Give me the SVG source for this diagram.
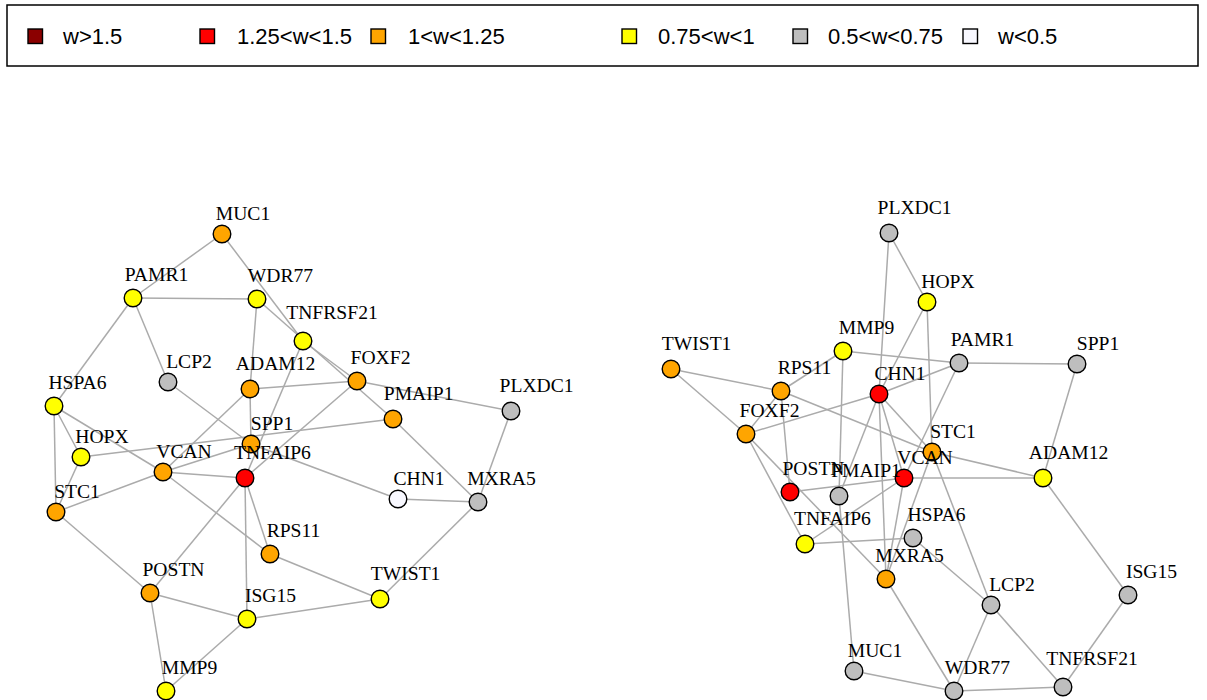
<svg xmlns="http://www.w3.org/2000/svg" width="1207" height="700" viewBox="0 0 1207 700">
<style>
.e{stroke:#ABABAB;stroke-width:1.5;fill:none}
.n{stroke:#000;stroke-width:1.4}
.o{fill:#FFA500}.y{fill:#FFFF00}.g{fill:#BEBEBE}.r{fill:#FF0000}.w{fill:#F8F8FF}.d{fill:#8B0000}
.l{font-family:"Liberation Serif","Times New Roman",serif;font-size:19.6px;fill:#000;text-anchor:middle}
.t{font-family:"Liberation Sans",Arial,sans-serif;font-size:22px;fill:#000}
</style>
<rect width="1207" height="700" fill="#fff"/>
<g id="legend">
<rect x="7" y="5" width="1191" height="61" fill="#fff" stroke="#000" stroke-width="1.5"/>
<rect class="n d" x="28" y="29" width="14.5" height="14.5"/><text class="t" x="63" y="44">w&gt;1.5</text>
<rect class="n r" x="200" y="29" width="14.5" height="14.5"/><text class="t" x="237" y="44">1.25&lt;w&lt;1.5</text>
<rect class="n o" x="371" y="29" width="14.5" height="14.5"/><text class="t" x="408" y="44">1&lt;w&lt;1.25</text>
<rect class="n y" x="622" y="29" width="14.5" height="14.5"/><text class="t" x="658" y="44">0.75&lt;w&lt;1</text>
<rect class="n g" x="793" y="29" width="14.5" height="14.5"/><text class="t" x="828" y="44">0.5&lt;w&lt;0.75</text>
<rect class="n w" x="963" y="29" width="14.5" height="14.5"/><text class="t" x="998" y="44">w&lt;0.5</text>
</g>
<g id="edges">
<line class="e" x1="222" y1="234" x2="133" y2="298"/>
<line class="e" x1="222" y1="234" x2="303" y2="341"/>
<line class="e" x1="133" y1="298" x2="257" y2="299"/>
<line class="e" x1="133" y1="298" x2="54" y2="406"/>
<line class="e" x1="133" y1="298" x2="168" y2="382"/>
<line class="e" x1="257" y1="299" x2="250" y2="389"/>
<line class="e" x1="257" y1="299" x2="393" y2="419"/>
<line class="e" x1="303" y1="341" x2="357" y2="381"/>
<line class="e" x1="303" y1="341" x2="245" y2="478"/>
<line class="e" x1="250" y1="389" x2="357" y2="381"/>
<line class="e" x1="250" y1="389" x2="163" y2="472"/>
<line class="e" x1="250" y1="389" x2="251" y2="444"/>
<line class="e" x1="168" y1="382" x2="251" y2="444"/>
<line class="e" x1="357" y1="381" x2="511" y2="411"/>
<line class="e" x1="357" y1="381" x2="245" y2="478"/>
<line class="e" x1="393" y1="419" x2="478" y2="502"/>
<line class="e" x1="511" y1="411" x2="478" y2="502"/>
<line class="e" x1="398" y1="499" x2="478" y2="502"/>
<line class="e" x1="251" y1="444" x2="398" y2="499"/>
<line class="e" x1="478" y1="502" x2="380" y2="599"/>
<line class="e" x1="54" y1="406" x2="81" y2="457"/>
<line class="e" x1="54" y1="406" x2="56" y2="512"/>
<line class="e" x1="54" y1="406" x2="163" y2="472"/>
<line class="e" x1="81" y1="457" x2="56" y2="512"/>
<line class="e" x1="81" y1="457" x2="393" y2="419"/>
<line class="e" x1="163" y1="472" x2="56" y2="512"/>
<line class="e" x1="163" y1="472" x2="245" y2="478"/>
<line class="e" x1="163" y1="472" x2="270" y2="554"/>
<line class="e" x1="163" y1="472" x2="251" y2="444"/>
<line class="e" x1="245" y1="478" x2="270" y2="554"/>
<line class="e" x1="245" y1="478" x2="247" y2="619"/>
<line class="e" x1="245" y1="478" x2="150" y2="593"/>
<line class="e" x1="270" y1="554" x2="380" y2="599"/>
<line class="e" x1="247" y1="619" x2="380" y2="599"/>
<line class="e" x1="150" y1="593" x2="247" y2="619"/>
<line class="e" x1="150" y1="593" x2="166" y2="691"/>
<line class="e" x1="247" y1="619" x2="166" y2="691"/>
<line class="e" x1="56" y1="512" x2="150" y2="593"/>

<line class="e" x1="889" y1="233" x2="927" y2="302"/>
<line class="e" x1="889" y1="233" x2="879" y2="394"/>
<line class="e" x1="927" y1="302" x2="879" y2="394"/>
<line class="e" x1="927" y1="302" x2="932" y2="452"/>
<line class="e" x1="843" y1="351" x2="959" y2="363"/>
<line class="e" x1="843" y1="351" x2="781" y2="391"/>
<line class="e" x1="843" y1="351" x2="839" y2="496"/>
<line class="e" x1="839" y1="496" x2="854" y2="671"/>
<line class="e" x1="671" y1="369" x2="781" y2="391"/>
<line class="e" x1="671" y1="369" x2="746" y2="434"/>
<line class="e" x1="781" y1="391" x2="746" y2="434"/>
<line class="e" x1="781" y1="391" x2="932" y2="452"/>
<line class="e" x1="781" y1="391" x2="790" y2="492"/>
<line class="e" x1="746" y1="434" x2="879" y2="394"/>
<line class="e" x1="746" y1="434" x2="805" y2="544"/>
<line class="e" x1="746" y1="434" x2="886" y2="579"/>
<line class="e" x1="879" y1="394" x2="959" y2="363"/>
<line class="e" x1="879" y1="394" x2="932" y2="452"/>
<line class="e" x1="879" y1="394" x2="904" y2="478"/>
<line class="e" x1="879" y1="394" x2="886" y2="579"/>
<line class="e" x1="879" y1="394" x2="839" y2="496"/>
<line class="e" x1="959" y1="363" x2="1077" y2="364"/>
<line class="e" x1="1077" y1="364" x2="1043" y2="478"/>
<line class="e" x1="959" y1="363" x2="904" y2="478"/>
<line class="e" x1="932" y1="452" x2="1043" y2="478"/>
<line class="e" x1="904" y1="478" x2="1043" y2="478"/>
<line class="e" x1="790" y1="492" x2="904" y2="478"/>
<line class="e" x1="1043" y1="478" x2="1128" y2="595"/>
<line class="e" x1="1128" y1="595" x2="1063" y2="687"/>
<line class="e" x1="991" y1="605" x2="1063" y2="687"/>
<line class="e" x1="991" y1="605" x2="954" y2="691"/>
<line class="e" x1="954" y1="691" x2="1063" y2="687"/>
<line class="e" x1="854" y1="671" x2="954" y2="691"/>
<line class="e" x1="886" y1="579" x2="954" y2="691"/>
<line class="e" x1="913" y1="538" x2="991" y2="605"/>
<line class="e" x1="805" y1="544" x2="913" y2="538"/>
<line class="e" x1="805" y1="544" x2="904" y2="478"/>
<line class="e" x1="932" y1="452" x2="886" y2="579"/>
<line class="e" x1="932" y1="452" x2="991" y2="605"/>
<line class="e" x1="904" y1="478" x2="886" y2="579"/>
</g>
<g id="n-MUC1"><circle class="n o" cx="222" cy="234" r="8.8"/><text class="l" x="243" y="219.5">MUC1</text></g>
<g id="n-PAMR1"><circle class="n y" cx="133" cy="298" r="8.8"/><text class="l" x="156.5" y="281">PAMR1</text></g>
<g id="n-WDR77"><circle class="n y" cx="257" cy="299" r="8.8"/><text class="l" x="280.5" y="282">WDR77</text></g>
<g id="n-TNFRSF21"><circle class="n y" cx="303" cy="341" r="8.8"/><text class="l" x="332" y="318.5">TNFRSF21</text></g>
<g id="n-LCP2"><circle class="n g" cx="168" cy="382" r="8.8"/><text class="l" x="189" y="367.5">LCP2</text></g>
<g id="n-ADAM12"><circle class="n o" cx="250" cy="389" r="8.8"/><text class="l" x="275.6" y="370">ADAM12</text></g>
<g id="n-FOXF2"><circle class="n o" cx="357" cy="381" r="8.8"/><text class="l" x="380.5" y="364">FOXF2</text></g>
<g id="n-PMAIP1"><circle class="n o" cx="393" cy="419" r="8.8"/><text class="l" x="418.6" y="400">PMAIP1</text></g>
<g id="n-PLXDC1"><circle class="n g" cx="511" cy="411" r="8.8"/><text class="l" x="536.6" y="392">PLXDC1</text></g>
<g id="n-HSPA6"><circle class="n y" cx="54" cy="406" r="8.8"/><text class="l" x="77.5" y="389">HSPA6</text></g>
<g id="n-HOPX"><circle class="n y" cx="81" cy="457" r="8.8"/><text class="l" x="102" y="442.5">HOPX</text></g>
<g id="n-VCAN"><circle class="n o" cx="163" cy="472" r="8.8"/><text class="l" x="184" y="457.5">VCAN</text></g>
<g id="n-SPP1"><circle class="n o" cx="251" cy="444" r="8.8"/></g>
<g id="n-TNFAIP6"><circle class="n r" cx="245" cy="478" r="8.8"/></g>
<g id="n-CHN1"><circle class="n w" cx="398" cy="499" r="8.8"/><text class="l" x="419" y="484.5">CHN1</text></g>
<g id="n-MXRA5"><circle class="n g" cx="478" cy="502" r="8.8"/><text class="l" x="501.5" y="485">MXRA5</text></g>
<g id="n-STC1"><circle class="n o" cx="56" cy="512" r="8.8"/><text class="l" x="77" y="497.5">STC1</text></g>
<g id="n-RPS11"><circle class="n o" cx="270" cy="554" r="8.8"/><text class="l" x="293.5" y="537">RPS11</text></g>
<g id="n-POSTN"><circle class="n o" cx="150" cy="593" r="8.8"/><text class="l" x="173.5" y="576">POSTN</text></g>
<g id="n-TWIST1"><circle class="n y" cx="380" cy="599" r="8.8"/><text class="l" x="405.6" y="580">TWIST1</text></g>
<g id="n-ISG15"><circle class="n y" cx="247" cy="619" r="8.8"/><text class="l" x="270.5" y="602">ISG15</text></g>
<g id="n-MMP9"><circle class="n y" cx="166" cy="691" r="8.8"/><text class="l" x="189.5" y="674">MMP9</text></g>
<g id="labels-left-overlap"><text class="l" x="272" y="430">SPP1</text><text class="l" x="272.4" y="459">TNFAIP6</text></g>

<g id="n-R-PLXDC1"><circle class="n g" cx="889" cy="233" r="8.8"/><text class="l" x="914.6" y="214">PLXDC1</text></g>
<g id="n-R-HOPX"><circle class="n y" cx="927" cy="302" r="8.8"/><text class="l" x="948" y="287.5">HOPX</text></g>
<g id="n-R-MMP9"><circle class="n y" cx="843" cy="351" r="8.8"/><text class="l" x="866.5" y="334">MMP9</text></g>
<g id="n-R-PAMR1"><circle class="n g" cx="959" cy="363" r="8.8"/><text class="l" x="982.5" y="346">PAMR1</text></g>
<g id="n-R-SPP1"><circle class="n g" cx="1077" cy="364" r="8.8"/><text class="l" x="1098" y="349.5">SPP1</text></g>
<g id="n-R-TWIST1"><circle class="n o" cx="671" cy="369" r="8.8"/><text class="l" x="696.6" y="350">TWIST1</text></g>
<g id="n-R-RPS11"><circle class="n o" cx="781" cy="391" r="8.8"/><text class="l" x="804.5" y="374">RPS11</text></g>
<g id="n-R-CHN1"><circle class="n r" cx="879" cy="394" r="8.8"/><text class="l" x="900" y="379.5">CHN1</text></g>
<g id="n-R-FOXF2"><circle class="n o" cx="746" cy="434" r="8.8"/><text class="l" x="769.5" y="417">FOXF2</text></g>
<g id="n-R-STC1"><circle class="n o" cx="932" cy="452" r="8.8"/></g>
<g id="n-R-ADAM12"><circle class="n y" cx="1043" cy="478" r="8.8"/><text class="l" x="1068.6" y="459">ADAM12</text></g>
<g id="n-R-POSTN"><circle class="n r" cx="790" cy="492" r="8.8"/></g>
<g id="n-R-PMAIP1"><circle class="n g" cx="839" cy="496" r="8.8"/></g>
<g id="n-R-VCAN"><circle class="n r" cx="904" cy="478" r="8.8"/></g>
<g id="n-R-TNFAIP6"><circle class="n y" cx="805" cy="544" r="8.8"/></g>
<g id="n-R-HSPA6"><circle class="n g" cx="913" cy="538" r="8.8"/></g>
<g id="n-R-MXRA5"><circle class="n o" cx="886" cy="579" r="8.8"/></g>
<g id="n-R-LCP2"><circle class="n g" cx="991" cy="605" r="8.8"/><text class="l" x="1012" y="590.5">LCP2</text></g>
<g id="n-R-ISG15"><circle class="n g" cx="1128" cy="595" r="8.8"/><text class="l" x="1151.5" y="578">ISG15</text></g>
<g id="n-R-MUC1"><circle class="n g" cx="854" cy="671" r="8.8"/><text class="l" x="875" y="656.5">MUC1</text></g>
<g id="n-R-WDR77"><circle class="n g" cx="954" cy="691" r="8.8"/><text class="l" x="977.5" y="674">WDR77</text></g>
<g id="n-R-TNFRSF21"><circle class="n g" cx="1063" cy="687" r="8.8"/><text class="l" x="1092" y="664.5">TNFRSF21</text></g>
<g id="labels-right-overlap">
<text class="l" x="953" y="437.5">STC1</text>
<text class="l" x="813.5" y="475">POSTN</text>
<text class="l" x="866" y="477">PMAIP1</text>
<text class="l" x="925" y="463.5">VCAN</text>
<text class="l" x="832.4" y="525">TNFAIP6</text>
<text class="l" x="936.5" y="521">HSPA6</text>
<text class="l" x="909.5" y="562">MXRA5</text>
</g>
</svg>
